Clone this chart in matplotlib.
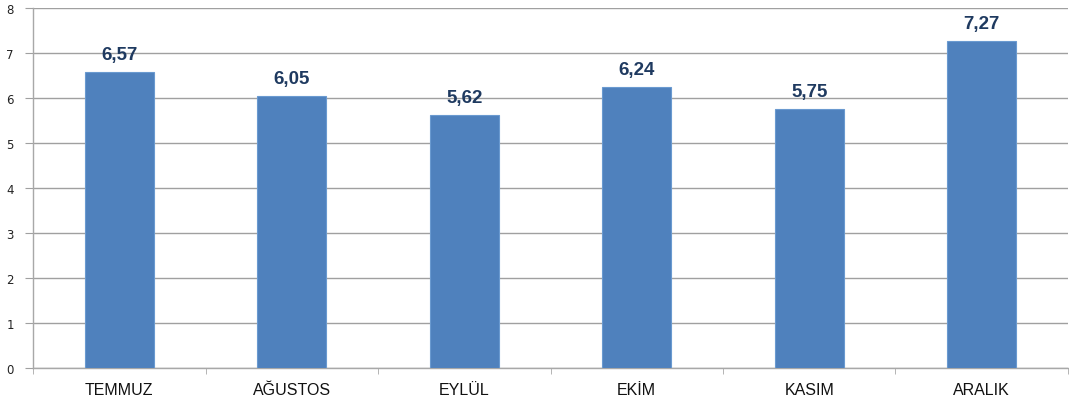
import numpy as np
from matplotlib import pyplot as plt

months = ['TEMMUZ', 'AĞUSTOS', 'EYLÜL', 'EKİM', 'KASIM', 'ARALIK']
values = [6.57, 6.05, 5.62, 6.24, 5.75, 7.27]
y_ticks = [0, 1, 2, 3, 4, 5, 6, 7, 8]

fig = plt.figure(figsize=(10.69, 4.10), dpi=100)
ax = fig.add_axes([0.031, 0.1, 0.968, 0.878])

x = np.arange(len(months))
ax.bar(x, values, width=0.4, color='#4F81BD', edgecolor='#6A9AD0', linewidth=0.8, zorder=3)

for xi, v in zip(x, values):
    ax.text(xi, v + 0.2, f'{v:.2f}'.replace('.', ','), ha='center', va='bottom',
            fontsize=13.5, fontweight='bold', color='#1F3A60', family='Liberation Sans', zorder=4)

ax.set_xlim(-0.5, len(months) - 0.5)
ax.set_ylim(0, 8)
ax.set_yticks(y_ticks)
ax.set_yticklabels([str(t) for t in y_ticks], fontsize=8.5, color='#222222')
ax.set_xticks(x)
ax.set_xticklabels(months, fontsize=11.5, color='#111111', family='Liberation Sans')
ax.set_xticks(np.arange(-0.5, len(months)), minor=True)
ax.tick_params(axis='x', which='major', length=0, pad=10)
ax.tick_params(axis='x', which='minor', length=4, color='#A8A8A8', direction='out')
ax.tick_params(axis='y', length=6, color='#A0A0A0', pad=8)

ax.grid(axis='y', color='#A0A0A0', linewidth=1.0, zorder=0)
for side in ['top', 'right']:
    ax.spines[side].set_visible(False)
for side in ['left', 'bottom']:
    ax.spines[side].set_color('#A8A8A8')
    ax.spines[side].set_linewidth(1.0)

fig.savefig('out.png', dpi=100)
